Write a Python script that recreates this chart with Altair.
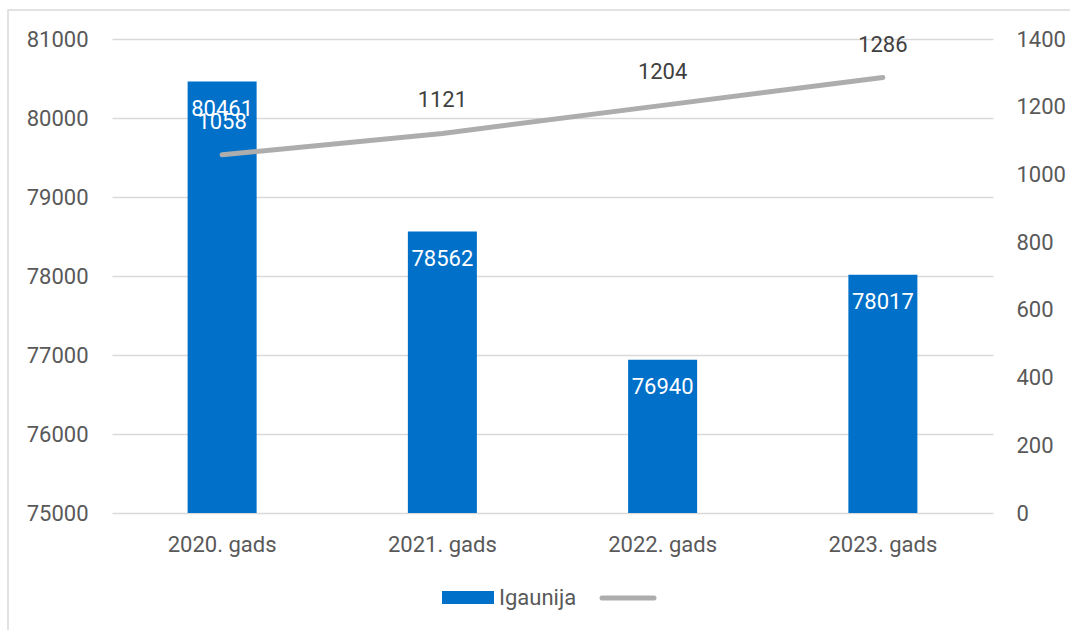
import altair as alt
import pandas as pd

# Chart data
years = ["2020. gads", "2021. gads", "2022. gads", "2023. gads"]
igaunija = [80461, 78562, 76940, 78017]
second_series = [1058, 1121, 1204, 1286]
left_ticks = [75000, 76000, 77000, 78000, 79000, 80000, 81000]
right_ticks = [0, 200, 400, 600, 800, 1000, 1200, 1400]
legend_label = "Igaunija"

df = pd.DataFrame({"gads": years, "igaunija": igaunija, "otra": second_series})
one = pd.DataFrame({"k": [0]})

FONT = "Roboto"
FS = 22
AXIS_GREY = "#595959"
BAR_BLUE = "#0070C9"
LINE_GREY = "#ADADAD"
W, H = 881, 474

x = alt.X(
    "gads:N",
    sort=years,
    title=None,
    scale=alt.Scale(paddingInner=0, paddingOuter=0),
    axis=alt.Axis(labelAngle=0, labelPadding=21, domain=False, ticks=False,
                  labelFontSize=FS, labelColor=AXIS_GREY, labelFont=FONT),
)

# Bars on the left axis
bars = alt.Chart(df).mark_bar(size=69, color=BAR_BLUE).encode(
    x=x,
    y=alt.Y(
        "igaunija:Q",
        title=None,
        scale=alt.Scale(domain=[75000, 81000], zero=False, nice=False),
        axis=alt.Axis(orient="left", values=left_ticks, format="d", domain=False,
                      ticks=False, labelPadding=24, labelFontSize=FS,
                      labelColor=AXIS_GREY, labelFont=FONT,
                      grid=True, gridColor="#D9D9D9", gridWidth=1.3),
    ),
    y2=alt.datum(75000),
)
bar_labels = alt.Chart(df).mark_text(
    color="white", fontSize=FS, font=FONT, baseline="middle", dy=27
).encode(x=x, y="igaunija:Q", text=alt.Text("igaunija:Q", format="d"))
left = alt.layer(bars, bar_labels)

# Line on the right axis
line = alt.Chart(df).mark_line(color=LINE_GREY, strokeWidth=5, strokeCap="round").encode(
    x=x,
    y=alt.Y(
        "otra:Q",
        title=None,
        scale=alt.Scale(domain=[0, 1400], nice=False),
        axis=alt.Axis(orient="right", values=right_ticks, format="d", domain=False,
                      ticks=False, grid=False, labelPadding=23, labelFontSize=FS,
                      labelColor=AXIS_GREY, labelFont=FONT),
    ),
)
line_labels = alt.Chart(df).mark_text(
    fontSize=FS, font=FONT, baseline="middle", dy=-33
).encode(
    x=x,
    y="otra:Q",
    text=alt.Text("otra:Q", format="d"),
    color=alt.condition(alt.datum.gads == years[0], alt.value("white"), alt.value("#404040")),
)
right = alt.layer(line, line_labels)

# Outer frame of the chart
frame = alt.Chart(one).mark_rect(fill=None, stroke="#D9D9D9", strokeWidth=1.5).encode(
    x=alt.value(-104), x2=alt.value(W + 120),
    y=alt.value(-29), y2=alt.value(H + 160),
)

# Legend drawn below the plot
leg_rect = alt.Chart(one).mark_rect(color=BAR_BLUE).encode(
    x=alt.value(330), x2=alt.value(382), y=alt.value(552), y2=alt.value(565)
)
leg_text = alt.Chart(one).mark_text(
    text=legend_label, fontSize=FS, font=FONT, color=AXIS_GREY, align="left", baseline="middle"
).encode(x=alt.value(387), y=alt.value(559))
leg_line = alt.Chart(one).mark_rule(color=LINE_GREY, strokeWidth=5, strokeCap="round").encode(
    x=alt.value(490), x2=alt.value(542), y=alt.value(559)
)

chart = alt.layer(frame, left, right, leg_rect, leg_text, leg_line).resolve_scale(
    y="independent"
).properties(
    width=W,
    height=H,
    autosize=alt.AutoSizeParams(type="none"),
    padding={"left": 112, "top": 39, "right": 77, "bottom": 117},
    background="white",
).configure_view(stroke=None)

chart.save("out.html", embed_options={"renderer": "svg", "actions": False})
